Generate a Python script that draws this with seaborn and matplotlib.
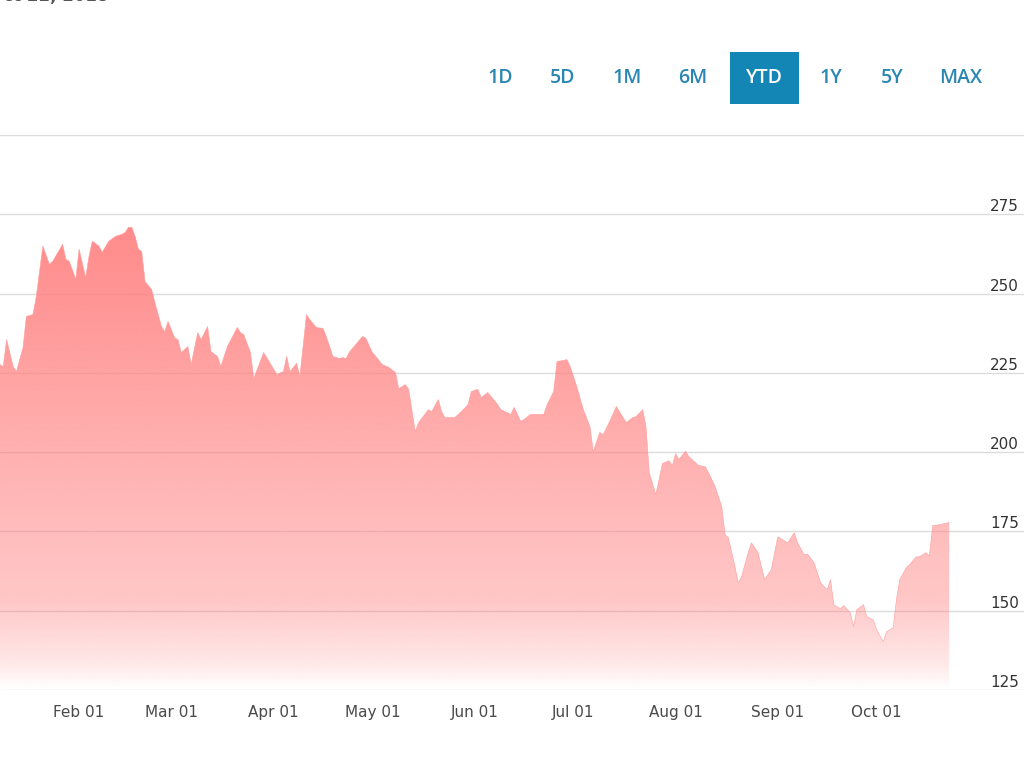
import numpy as np
import pandas as pd
import matplotlib
matplotlib.use("Agg")
import matplotlib.pyplot as plt
from matplotlib.patches import Rectangle, PathPatch
from matplotlib.transforms import blended_transform_factory
import seaborn as sns

# ---------------- data ----------------
base_date = "2018-01-01"
day_offsets = [7, 8, 9, 11, 12, 14, 15, 17, 18, 20, 22, 23, 26, 27, 28, 30, 31, 33, 34, 35,
               37, 38, 40, 42, 44, 45, 46, 47, 48, 49, 50, 51, 53, 54, 56, 57, 58, 60, 61, 62,
               64, 65, 67, 68, 70, 71, 73, 74, 76, 79, 80, 81, 83, 84, 87, 91, 93, 94, 95, 97,
               98, 100, 101, 103, 105, 106, 108, 110, 111, 112, 113, 114, 115, 117, 118, 120, 121, 123, 125, 127,
               128, 130, 131, 133, 134, 137, 138, 140, 141, 142, 145, 147, 149, 150, 152, 153, 155, 158, 159, 162,
               163, 164, 165, 166, 168, 170, 172, 173, 175, 176, 178, 179, 180, 182, 184, 186, 187, 189, 190, 192,
               194, 197, 199, 200, 202, 203, 204, 206, 208, 210, 211, 212, 213, 215, 216, 218, 219, 221, 222, 224,
               226, 227, 228, 230, 231, 232, 234, 235, 237, 239, 241, 243, 246, 248, 249, 251, 252, 254, 256, 258,
               259, 260, 262, 263, 265, 266, 267, 269, 270, 272, 273, 275, 276, 278, 279, 280, 282, 283, 285, 286,
               288, 289, 290, 292, 295]
prices = [227.6, 227.0, 235.5, 227.0, 225.4, 233.0, 242.8, 243.4, 249.0, 265.0, 259.2, 260.2, 265.5, 260.8, 260.2, 254.5, 264.0, 255.0, 261.7, 266.5,
          265.0, 263.0, 266.5, 268.0, 268.7, 269.3, 270.9, 270.9, 268.0, 264.0, 263.3, 253.8, 251.3, 247.2, 239.6, 238.0, 241.2, 236.0, 235.5, 231.4,
          233.3, 227.6, 237.7, 235.5, 239.6, 231.7, 230.2, 227.0, 233.3, 239.3, 237.7, 237.0, 231.4, 223.2, 231.4, 224.5, 225.4, 230.2, 225.4, 228.0,
          223.9, 243.4, 241.8, 239.3, 239.0, 236.5, 230.2, 229.5, 229.8, 229.5, 231.5, 232.8, 234.0, 236.5, 235.9, 231.4, 230.2, 227.6, 226.7, 225.1,
          220.0, 221.3, 219.8, 206.5, 209.3, 213.4, 212.8, 216.6, 212.8, 210.9, 210.9, 212.8, 215.0, 219.1, 219.8, 217.2, 218.8, 215.0, 213.4, 211.9,
          214.1, 211.9, 209.7, 210.3, 211.9, 211.9, 211.9, 215.0, 219.1, 228.6, 228.9, 229.2, 227.0, 220.7, 213.4, 208.1, 200.2, 206.2, 205.5, 209.7,
          214.4, 209.3, 210.9, 211.2, 213.4, 208.1, 193.5, 186.6, 196.4, 197.3, 195.7, 199.5, 197.7, 200.3, 198.6, 196.7, 195.8, 195.4, 193.5, 189.1,
          182.8, 174.0, 173.0, 163.9, 158.8, 160.7, 168.3, 171.4, 168.3, 159.8, 162.9, 173.3, 171.4, 174.6, 171.4, 167.6, 167.9, 165.1, 158.8, 156.6,
          159.8, 151.9, 150.6, 151.6, 149.3, 145.0, 150.3, 151.9, 148.1, 147.1, 144.0, 140.2, 143.4, 144.6, 153.5, 159.8, 163.6, 164.5, 167.0, 167.0,
          168.3, 167.3, 176.8, 177.1, 177.8]
y_ticks = [125, 150, 175, 200, 225, 250, 275]
x_tick_dates = ["2018-02-01", "2018-03-01", "2018-04-01", "2018-05-01", "2018-06-01",
                "2018-07-01", "2018-08-01", "2018-09-01", "2018-10-01"]
x_tick_labels = ["Feb 01", "Mar 01", "Apr 01", "May 01", "Jun 01", "Jul 01", "Aug 01", "Sep 01", "Oct 01"]
range_buttons = ["1D", "5D", "1M", "6M", "YTD", "1Y", "5Y", "MAX"]
selected_button = "YTD"
header_date = "Oct 22, 2018"

df = pd.DataFrame({
    "date": pd.Timestamp(base_date) + pd.to_timedelta(day_offsets, unit="D"),
    "price": prices,
})

# ---------------- figure ----------------
sns.set_theme(style="white")
plt.rcParams["font.family"] = ["DejaVu Sans"]

W, H = 1024, 768
fig = plt.figure(figsize=(W / 100, H / 100), dpi=100)
ax_bottom_px, ax_top_px = 690, 135
ax = fig.add_axes([0, 1 - ax_bottom_px / H, 1, (ax_bottom_px - ax_top_px) / H])
ax.patch.set_alpha(0)

x_left = pd.Timestamp(base_date) + pd.to_timedelta(7.0, unit="D")
x_right = pd.Timestamp(base_date) + pd.to_timedelta(317.7, unit="D")

# gradient fill under the line
xnum = matplotlib.dates.date2num(df["date"])
fill = ax.fill_between(df["date"], df["price"], 125, color="none", lw=0)
ny = 400
yy = np.linspace(300, 125, ny)  # top to bottom
alpha = np.interp(yy, [125, 133, 153, 200, 250, 300], [0.0, 0.18, 0.44, 0.62, 0.84, 1.0])
rgba = np.zeros((ny, 2, 4))
rgba[..., 0] = 1.0
rgba[..., 1] = 128 / 255
rgba[..., 2] = 128 / 255
rgba[..., 3] = alpha[:, None]
im = ax.imshow(rgba, aspect="auto", origin="upper",
               extent=[xnum.min(), xnum.max(), 125, 300], zorder=2, interpolation="bilinear")
clip = PathPatch(fill.get_paths()[0], transform=ax.transData, facecolor="none", edgecolor="none")
ax.add_patch(clip)
im.set_clip_path(clip)

sns.lineplot(data=df, x="date", y="price", ax=ax, color="#ff9c9c", lw=0.4, zorder=3)

ax.set_xlim(x_left, x_right)
ax.set_ylim(125, 300)

# grid lines
for v in y_ticks + [300]:
    ax.axhline(v, color="#dcdcdc", lw=1.0, zorder=1)

for s in ax.spines.values():
    s.set_visible(False)

ax.set_yticks([])
ax.set_ylabel("")
ax.set_xlabel("")
ax.set_xticks(pd.to_datetime(x_tick_dates))
ax.set_xticklabels(x_tick_labels, fontsize=11, color="#4a4a4a")
ax.tick_params(axis="x", length=0, pad=11)

trans = blended_transform_factory(ax.transAxes, ax.transData)
for v in y_ticks:
    ax.text(0.995, v + 0.95, str(v), transform=trans, ha="right", va="baseline",
            fontsize=11, color="#333333")

# range selector buttons
btn_x = [500, 563, 627, 693, 764, 831, 892, 961]
btn_y = 78
for label, bx in zip(range_buttons, btn_x):
    if label == selected_button:
        fig.patches.append(Rectangle((730 / W, 1 - 104 / H), 69 / W, 52 / H,
                                     transform=fig.transFigure, facecolor="#1386b5",
                                     edgecolor="none"))
        fig.text(bx / W, 1 - btn_y / H, label, ha="center", va="center", fontsize=14,
                 color="white", family="Open Sans", fontweight="semibold")
    else:
        fig.text(bx / W, 1 - btn_y / H, label, ha="center", va="center", fontsize=14,
                 color="#2a86b2", family="Open Sans", fontweight="semibold")

# cropped header date at the very top (only its lower edge is visible, as in the reference)
fig.text(-11 / W, 1 - 1 / H, header_date, ha="left", va="baseline", fontsize=12,
         color="#555555", fontweight="bold")

fig.savefig("out.png", dpi=100)
